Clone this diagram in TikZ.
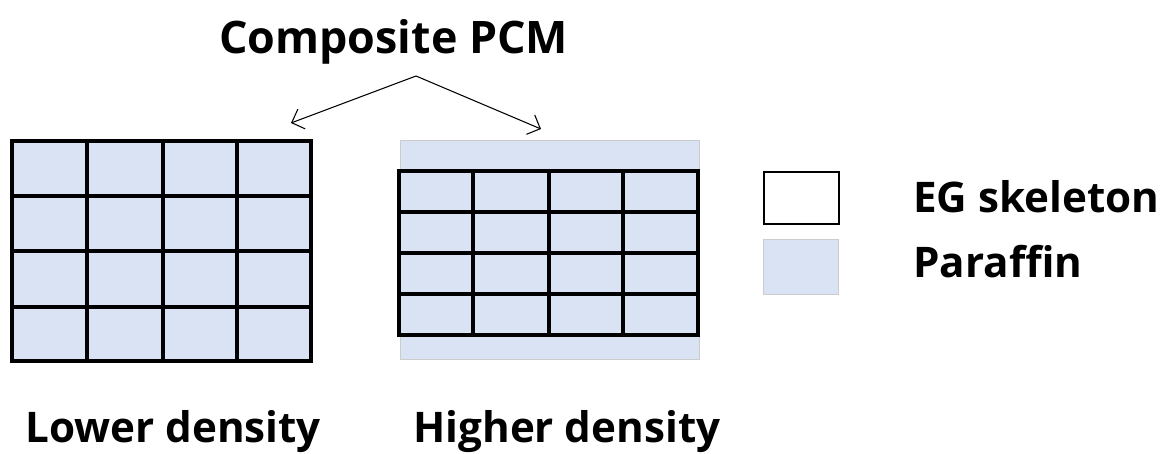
\documentclass[tikz,border=0pt]{standalone}
\usepackage{fontspec}
\setmainfont{Open Sans}
\usetikzlibrary{arrows.meta}

\definecolor{paraffinblue}{HTML}{DAE3F3}

\begin{document}
\begin{tikzpicture}[x=0.02cm, y=-0.02cm, >={Straight Barb[length=6pt, width=12pt]},
    every node/.style={font=\fontsize{24}{29}\selectfont\bfseries, inner sep=0pt},
    skeleton/.style={draw=black, line width=1.9pt},
    paraffin/.style={fill=paraffinblue}]
  \useasboundingbox (0,0) rectangle (1169,453);

  % title with the two arrows
  \node[anchor=base west, font=\fontsize{25.5}{30}\selectfont\bfseries] (title) at (219,53) {Composite PCM};
  \coordinate (split) at (416,76);
  \coordinate (lowtip) at (291,123);
  \coordinate (hightip) at (541,129);
  \draw[->, line width=0.6pt] (split) -- (lowtip);
  \draw[->, line width=0.6pt] (split) -- (hightip);

  % lower density: cells fill the whole block
  \fill[paraffin] (12,141) rectangle (311,361);
  \draw[skeleton] (12,141) rectangle (311,361);
  \foreach \x in {87,163,237} \draw[skeleton] (\x,141) -- (\x,361);
  \foreach \y in {196,251,307} \draw[skeleton] (12,\y) -- (311,\y);

  % higher density: skeleton squeezed inside the paraffin
  \draw[paraffin, draw=gray!40, line width=0.5pt] (400,140) rectangle (699,359);
  \draw[skeleton] (399,171) rectangle (698,335);
  \foreach \x in {473,549,623} \draw[skeleton] (\x,171) -- (\x,335);
  \foreach \y in {212,253,294} \draw[skeleton] (399,\y) -- (698,\y);

  % legend
  \node[draw=black, line width=1.3pt, fill=white, anchor=north west,
        minimum width=1.5cm, minimum height=1.04cm] (egkey) at (763,171) {};
  \node[paraffin, draw=gray!40, line width=0.5pt, anchor=north west,
        minimum width=1.5cm, minimum height=1.1cm] (pakey) at (763,239) {};
  \node[anchor=base west] (egtext) at (913,212) {EG skeleton};
  \node[anchor=base west] (patext) at (913,277) {Paraffin};

  % captions
  \node[anchor=base west] (lowtext) at (25,442) {Lower density};
  \node[anchor=base west] (hightext) at (413,442) {Higher density};
\end{tikzpicture}
\end{document}
